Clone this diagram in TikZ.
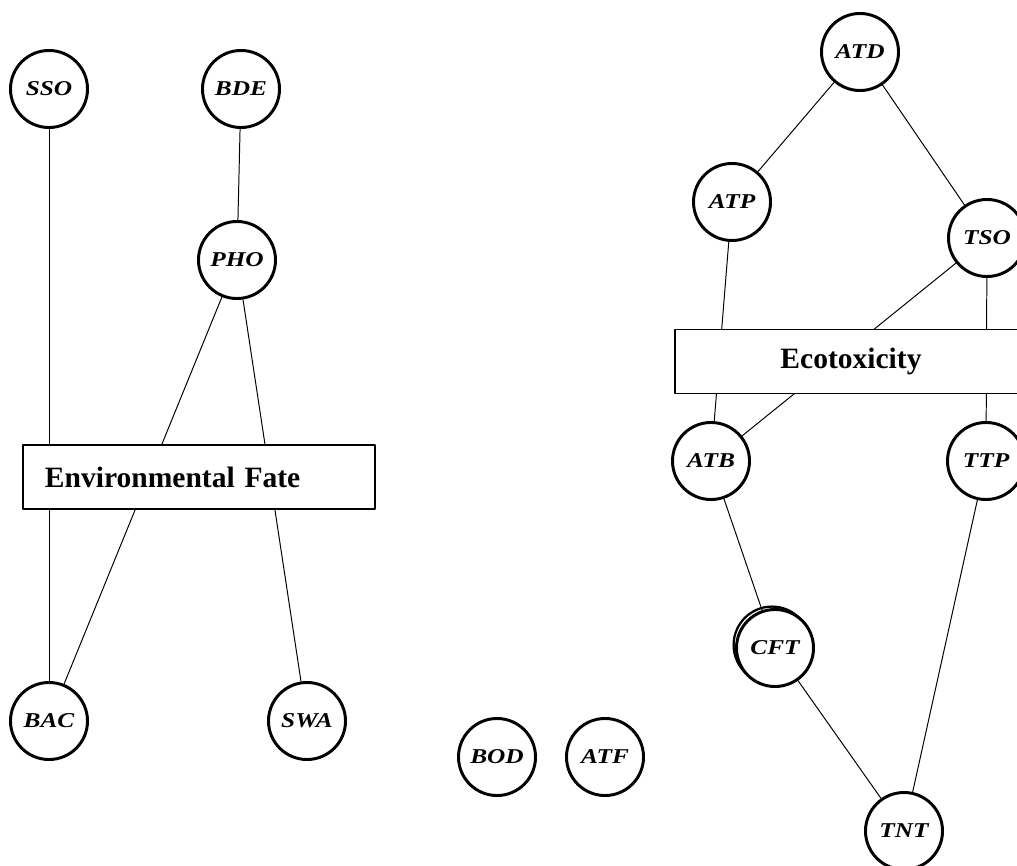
\documentclass[tikz,border=0pt]{standalone}
\usepackage{fontspec}
\setmainfont{Liberation Serif}
\newfontfamily\varfont[FakeStretch=1.2]{Liberation Serif}

\begin{document}
\begin{tikzpicture}[x=0.025cm,y=-0.025cm,line join=round,line cap=round,
  var/.style={circle,draw,line width=2.1pt,fill=white,minimum size=1.925cm,inner sep=0pt,font=\varfont\fontsize{15}{15}\selectfont\bfseries\itshape},
  grp/.style={draw,line width=1.4pt,fill=white,minimum height=1.6cm,inner xsep=0.55cm,text width=7.7cm,font=\fontsize{21}{21}\selectfont\bfseries}]
\useasboundingbox (0,0) rectangle (1017,866);
\draw[line width=1.6pt] (772,645) circle[radius=0.96cm];
\foreach \n/\x/\y in {SSO/49/89,BDE/241/89,PHO/237/260,BAC/49/721,SWA/307/721,BOD/497/757,ATF/605/757,ATD/860/52,ATP/732/202,TSO/987/238,ATB/711/461,TTP/986/461,CFT/775/648,TNT/904/831}{\node[var] (\n) at (\x,\y) {\n};}
\foreach \a/\b in {SSO/BAC,BDE/PHO,PHO/BAC,PHO/SWA,ATD/ATP,ATD/TSO,ATP/ATB,TSO/ATB,TSO/TTP,ATB/CFT,CFT/TNT,TTP/TNT}{\draw[line width=0.7pt] (\a)--(\b);}
% group boxes sit on top of the links
\node[grp,align=left] (envfate) at (199,477) {Environmental Fate};
\node[grp,align=center] (ecotox) at (851,361.5) {Ecotoxicity};
\end{tikzpicture}
\end{document}
